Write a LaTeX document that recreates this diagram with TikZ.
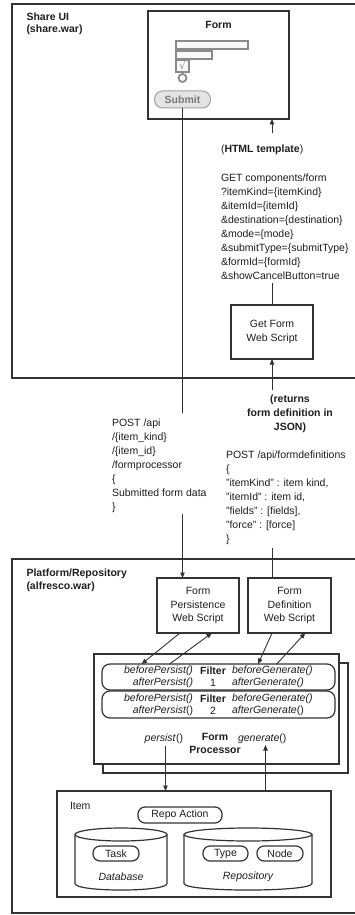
\documentclass[tikz,border=0pt]{standalone}
\usepackage{fontspec}
\setmainfont{Liberation Sans}
\newfontfamily\symbolfont{DejaVu Sans}
\usetikzlibrary{arrows.meta,calc}
\definecolor{ink}{HTML}{1E1E1E}
\definecolor{edge}{HTML}{333333}
\definecolor{widget}{HTML}{8A8A8A}
\definecolor{widgetfill}{HTML}{F8F8F8}
\definecolor{buttonfill}{HTML}{E4E4E4}
\definecolor{buttontext}{HTML}{777777}

\tikzset{
  base/.style={inner sep=0pt, outer sep=0pt, text=ink},
  txt/.style={base, align=left, font=\fontsize{10.5}{14}\selectfont},
  lbl/.style={base, align=left, font=\fontsize{10.5}{12.5}\selectfont\bfseries},
  frame/.style={draw=edge, line width=2pt},
  block/.style={base, draw=edge, line width=1.4pt, align=center, font=\fontsize{10.5}{13.5}\selectfont},
  pill/.style={base, draw=edge, line width=1.2pt, rounded corners=7pt, minimum height=15pt, font=\fontsize{10.5}{12}\selectfont},
  filt/.style={base, draw=edge, line width=1.2pt, rounded corners=8pt, minimum width=233pt},
  ftxt/.style={base, font=\fontsize{10.5}{12}\selectfont},
  conn/.style={draw=edge, line width=0.9pt},
  arr/.style={conn, -{Triangle[length=5.5pt,width=4.5pt]}},
  wbox/.style={draw=widget, line width=1.3pt, fill=widgetfill},
  cyl/.style={draw=edge, line width=1.2pt},
}

\begin{document}
\begin{tikzpicture}[x=1pt,y=-1pt]
\useasboundingbox (0,0) rectangle (355,915);
\fill[white] (0,0) rectangle (355,915);

% ---------- Share UI tier ----------
\draw[frame] (358,4) -- (12,4) -- (12,378) -- (358,378);
\node[lbl, anchor=north west] (shareui) at (26.5,12.8) {Share UI\\(share.war)};

\node[base, draw=edge, line width=2pt, minimum width=141pt, minimum height=108pt] (form) at (218.5,65) {};
\node[base, font=\fontsize{10.5}{12}\selectfont\bfseries] (formtitle) at (218.5,25) {Form};

% form widgets
\node[base, wbox, minimum width=72pt, minimum height=8pt] (field1) at (212,45) {};
\node[base, wbox, minimum width=36pt, minimum height=8pt] (field2) at (194,55) {};
\node[base, wbox, minimum width=13pt, minimum height=12pt, text=widget,
      font=\symbolfont\fontsize{10}{10}\selectfont] (check) at (182.5,66) {√};
\node[base, draw=widget, line width=1.8pt, circle, minimum size=8pt] (radio) at (182.5,78) {};
\node[base, draw=widget!80, line width=1pt, fill=buttonfill, rounded corners=8pt,
      minimum width=56pt, minimum height=17pt, text=buttontext,
      font=\fontsize{10.5}{12}\selectfont\bfseries] (submit) at (182.5,99.5) {Submit};

\node[txt, anchor=base west] (html) at (221,153) {(\textbf{HTML template})};
\node[txt, anchor=north west] (get) at (221,173.5)
  {GET components/form\\
   ?itemKind=\{itemKind\}\\
   \&itemId=\{itemId\}\\
   \&destination=\{destination\}\\
   \&mode=\{mode\}\\
   \&submitType=\{submitType\}\\
   \&formId=\{formId\}\\
   \&showCancelButton=true};

\node[block, minimum width=82pt, minimum height=54pt] (getform) at (272,332) {Get Form\\Web Script};

% ---------- messages between the tiers ----------
\node[txt, anchor=north west] (postL) at (112,419.3)
  {POST /api\\
   /\{item\_kind\}\\
   /\{item\_id\}\\
   /formprocessor\\
   \{\\
   Submitted form data\\
   \}};

\node[base, align=center, font=\fontsize{10.5}{14}\selectfont\bfseries, anchor=north] (ret) at (290,395.3)
  {(returns\\form definition in\\JSON)};

\node[txt, anchor=north west] (postR) at (226,451.3)
  {POST /api/formdefinitions\\
   \{\\
   "itemKind" : item kind,\\
   "itemId" : item id,\\
   "fields" : [fields],\\
   "force" : [force]\\
   \}};

% ---------- Platform / Repository tier ----------
\draw[frame] (358,559) -- (12,559) -- (12,913) -- (358,913);
\node[lbl, anchor=north west] (platform) at (26.5,569.3) {Platform/Repository\\(alfresco.war)};

\node[block, minimum width=82pt, minimum height=55pt] (persist) at (198,605.5) {Form\\Persistence\\Web Script};
\node[block, minimum width=83pt, minimum height=55pt] (defbox) at (289.5,605.5) {Form\\Definition\\Web Script};

% form processor (stacked)
\node[block, minimum width=245pt, minimum height=110pt, fill=white] (procback) at (225.5,718) {};
\node[block, minimum width=245pt, minimum height=110pt, fill=white] (proc) at (216.5,709) {};

\node[filt, minimum height=26pt] (filt1) at (218.5,677) {};
\node[filt, minimum height=27pt] (filt2) at (218.5,704.5) {};

\node[ftxt, anchor=east, align=right, font=\fontsize{10.5}{12}\selectfont\itshape] (bp1) at (193,677) {beforePersist()\\afterPersist()};
\node[ftxt, align=center, font=\fontsize{10.5}{12}\selectfont\bfseries] (f1) at (213,677) {Filter\\\mdseries 1};
\node[ftxt, anchor=west, align=left, font=\fontsize{10.5}{12}\selectfont\itshape] (bg1) at (232,677) {beforeGenerate()\\afterGenerate()};

\node[ftxt, anchor=east, align=right, font=\fontsize{10.5}{12}\selectfont\itshape] (bp2) at (193,704.5) {beforePersist()\\afterPersist\upshape()};
\node[ftxt, align=center, font=\fontsize{10.5}{12}\selectfont\bfseries] (f2) at (213,704.5) {Filter\\\mdseries 2};
\node[ftxt, anchor=west, align=left, font=\fontsize{10.5}{12}\selectfont\itshape] (bg2) at (232,704.5) {beforeGenerate()\\afterGenerate\upshape()};

\node[ftxt, anchor=base east] (persisttxt) at (183,741) {\textit{persist}()};
\node[ftxt, anchor=north, align=center, font=\fontsize{10.5}{13}\selectfont\bfseries] (proctitle) at (215,733.4) {Form\\Processor};
\node[ftxt, anchor=base west] (gentxt) at (238,741) {\textit{generate}()};

\coordinate (pdown) at (165.5,746);
\coordinate (gup) at (265.5,745);

% item and its stores
\node[block, minimum width=274pt, minimum height=106pt] (item) at (194,844) {};
\node[txt, anchor=base west] (itemlbl) at (70,809) {Item};
\node[pill, minimum width=84pt, minimum height=16pt] (repoact) at (180,815) {Repo Action};

% database cylinder
\draw[cyl] (75,834.5) -- (75,883.5) .. controls (75,892.2) and (167,892.2) .. (167,883.5) -- (167,834.5);
\draw[cyl] (121,834.5) ellipse [x radius=46pt, y radius=6.5pt];
% repository cylinder
\draw[cyl] (184,834.5) -- (184,883.5) .. controls (184,892.2) and (312,892.2) .. (312,883.5) -- (312,834.5);
\draw[cyl] (248,834.5) ellipse [x radius=64pt, y radius=6.5pt];

\node[pill, minimum width=46pt] (task) at (116,853.5) {Task};
\node[pill, minimum width=45pt] (type) at (225.5,853.5) {Type};
\node[pill, minimum width=46pt] (nodebox) at (280,853.5) {Node};
\node[ftxt, font=\fontsize{10.5}{12}\selectfont\itshape] (dblbl) at (121,877) {Database};
\node[ftxt, font=\fontsize{10.5}{12}\selectfont\itshape] (repolbl) at (248,877) {Repository};

% ---------- connectors ----------
\draw[arr, shorten <=12pt] (getform.north |- html.north) -- (getform.north |- form.south);
\draw[conn, shorten >=4pt] (getform.north) -- (getform.north |- get.south);

\draw[conn, shorten >=6pt] (submit.south) -- (submit.south |- postL.north);
\draw[arr, shorten <=1pt] (submit.south |- postL.south) -- (submit.south |- persist.north);

\draw[arr, shorten <=5pt] (getform.south |- ret.north) -- (getform.south);
\draw[conn, shorten <=3pt] (getform.south |- postR.south) -- (getform.south |- defbox.north);

\draw[arr] ($(persist.south west)!0.28!(persist.south east)$) -- ($(filt1.north west)!0.17!(filt1.north east)$);
\draw[arr] ($(filt1.north west)!0.29!(filt1.north east)$) -- ($(persist.south west)!0.67!(persist.south east)$);
\draw[arr] ($(defbox.south west)!0.29!(defbox.south east)$) -- ($(filt1.north west)!0.67!(filt1.north east)$);
\draw[arr] ($(filt1.north west)!0.75!(filt1.north east)$) -- ($(defbox.south west)!0.69!(defbox.south east)$);

\draw[arr] (pdown) -- (pdown |- item.north);
\draw[arr] (gup |- item.north) -- (gup);
\end{tikzpicture}
\end{document}
